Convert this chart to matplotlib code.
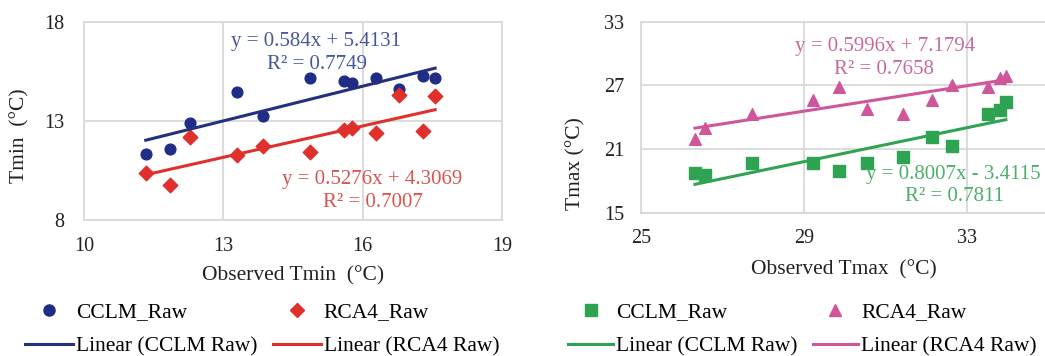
import matplotlib.pyplot as plt
from matplotlib.lines import Line2D
import numpy as np

plt.rcParams['font.family'] = ['Liberation Serif', 'DejaVu Serif']
plt.rcParams['font.size'] = 14

# Tmin panel data
tmin_obs = [11.33, 11.85, 12.28, 13.29, 13.85, 14.87, 15.59, 15.77, 16.29, 16.78, 17.30, 17.56]
tmin_cclm = [11.33, 11.60, 12.88, 14.48, 13.25, 15.16, 15.00, 14.90, 15.16, 14.60, 15.27, 15.16]
tmin_rca4 = [10.36, 9.77, 12.21, 11.28, 11.75, 11.42, 12.55, 12.63, 12.38, 14.31, 12.51, 14.28]
tmin_fit_cclm = (0.584, 5.4131, 0.7749)
tmin_fit_rca4 = (0.5276, 4.3069, 0.7007)

# Tmax panel data
tmax_obs = [26.33, 26.58, 27.74, 29.22, 29.86, 30.54, 31.42, 32.15, 32.64, 33.52, 33.80, 33.95]
tmax_cclm = [18.71, 18.55, 19.65, 19.65, 18.96, 19.65, 20.22, 22.16, 21.28, 24.27, 24.68, 25.46]
tmax_rca4 = [21.91, 23.01, 24.27, 25.62, 26.82, 24.74, 24.27, 25.62, 27.03, 26.82, 27.66, 27.88]
tmax_fit_cclm = (0.8007, -3.4115, 0.7811)
tmax_fit_rca4 = (0.5996, 7.1794, 0.7658)

legend_labels = ['CCLM_Raw', 'Linear (CCLM Raw)', 'RCA4_Raw', 'Linear (RCA4 Raw)']

W, H = 1045, 356
fig = plt.figure(figsize=(W / 100, H / 100), dpi=100)

def fx(px):
    return px / W

def fy(py):
    return 1 - py / H

def style_axes(ax, xticks, yticks, ypad):
    ax.set_xticks(xticks)
    ax.set_yticks(yticks)
    ax.grid(True, color='#d9d9d9', linewidth=1.3)
    ax.set_axisbelow(True)
    for s in ax.spines.values():
        s.set_color('#d9d9d9')
        s.set_linewidth(1.3)
    ax.tick_params(length=0, labelsize=14.5, colors='#222222')
    ax.tick_params(axis='y', pad=ypad)
    ax.tick_params(axis='x', pad=12)

def eq_text(m, b):
    sign = '+' if b >= 0 else '-'
    return 'y = %gx %s %g' % (m, sign, abs(b))

# ---- left panel: Tmin
ax1 = fig.add_axes([fx(84), fy(220), fx(502 - 84), (220 - 22) / H])
blue, red = '#1f2d86', '#e0302b'
ax1.scatter(tmin_obs, tmin_cclm, s=60, color=blue, marker='o', zorder=3)
ax1.scatter(tmin_obs, tmin_rca4, s=55, color=red, marker='D', zorder=3)
xs = np.array([min(tmin_obs), max(tmin_obs)])
ax1.plot(xs, tmin_fit_cclm[0] * xs + tmin_fit_cclm[1], color='#24307f', lw=2.2, zorder=4)
ax1.plot(xs, tmin_fit_rca4[0] * xs + tmin_fit_rca4[1], color=red, lw=2.2, zorder=4)
ax1.set_xlim(10, 19)
ax1.set_ylim(8, 18)
style_axes(ax1, [10, 13, 16, 19], [8, 13, 18], 14)
ax1.text(15.0, 17.0, eq_text(*tmin_fit_cclm[:2]), color='#46579a', ha='center', va='center', fontsize=15)
ax1.text(15.02, 15.83, 'R² = %g' % tmin_fit_cclm[2], color='#46579a', ha='center', va='center', fontsize=15)
ax1.text(16.2, 10.07, eq_text(*tmin_fit_rca4[:2]), color='#d9534f', ha='center', va='center', fontsize=15)
ax1.text(16.22, 8.9, 'R² = %g' % tmin_fit_rca4[2], color='#d9534f', ha='center', va='center', fontsize=15)
fig.text(fx(293), fy(276), 'Observed Tmin  (°C)', ha='center', va='center', fontsize=15.5, color='#222222')
fig.text(fx(20), fy(136), 'Tmin  (°C)', ha='center', va='center', rotation=90, fontsize=15.5, color='#222222')

h1 = [Line2D([], [], ls='none', marker='o', ms=8, color=blue),
      Line2D([], [], color='#24307f', lw=2.2),
      Line2D([], [], ls='none', marker='D', ms=7, color=red),
      Line2D([], [], color=red, lw=2.2)]
fig.legend(h1, legend_labels, ncol=2, loc='upper left', bbox_to_anchor=(fx(25), fy(302)),
           frameon=False, fontsize=15.5, handlelength=2.23, handletextpad=0.14,
           columnspacing=0.7, labelspacing=0.65, borderpad=0, borderaxespad=0)

# ---- right panel: Tmax (frame continues past the right edge, as in the source)
ax2 = fig.add_axes([fx(640.7), fy(212.7), 12 * 40.8 / W, (212.7 - 21.7) / H])
green, pink = '#2ea453', '#cf569a'
ax2.scatter(tmax_obs, tmax_cclm, s=70, color=green, marker='s', zorder=3)
ax2.scatter(tmax_obs, tmax_rca4, s=70, color=pink, marker='^', zorder=3)
xs = np.array([min(tmax_obs), max(tmax_obs)])
ax2.plot(xs, tmax_fit_cclm[0] * xs + tmax_fit_cclm[1], color=green, lw=2.2, zorder=4)
ax2.plot(xs, tmax_fit_rca4[0] * xs + tmax_fit_rca4[1], color=pink, lw=2.2, zorder=4)
ax2.set_xlim(25, 37)
ax2.set_ylim(15, 33)
style_axes(ax2, [25, 29, 33], [15, 21, 27, 33], 12)
ax2.text(30.99, 30.64, eq_text(*tmax_fit_rca4[:2]), color='#c96a9e', ha='center', va='center', fontsize=15)
ax2.text(30.97, 28.45, 'R² = %g' % tmax_fit_rca4[2], color='#c96a9e', ha='center', va='center', fontsize=15)
ax2.text(32.65, 18.62, eq_text(*tmax_fit_cclm[:2]), color='#4caf6a', ha='center', va='center', fontsize=15)
ax2.text(32.7, 16.51, 'R² = %g' % tmax_fit_cclm[2], color='#4caf6a', ha='center', va='center', fontsize=15)
fig.text(fx(844), fy(270), 'Observed Tmax  (°C)', ha='center', va='center', fontsize=15.5, color='#222222')
fig.text(fx(576), fy(164), 'Tmax (°C)', ha='center', va='center', rotation=90, fontsize=15.5, color='#222222')

h2 = [Line2D([], [], ls='none', marker='s', ms=8.5, color=green),
      Line2D([], [], color=green, lw=2.2),
      Line2D([], [], ls='none', marker='^', ms=8.5, color=pink),
      Line2D([], [], color=pink, lw=2.2)]
fig.legend(h2, legend_labels, ncol=2, loc='upper left', bbox_to_anchor=(fx(568), fy(302)),
           frameon=False, fontsize=15.5, handlelength=2.1, handletextpad=0.14,
           columnspacing=0.7, labelspacing=0.65, borderpad=0, borderaxespad=0)

fig.savefig('out.png', dpi=100)
